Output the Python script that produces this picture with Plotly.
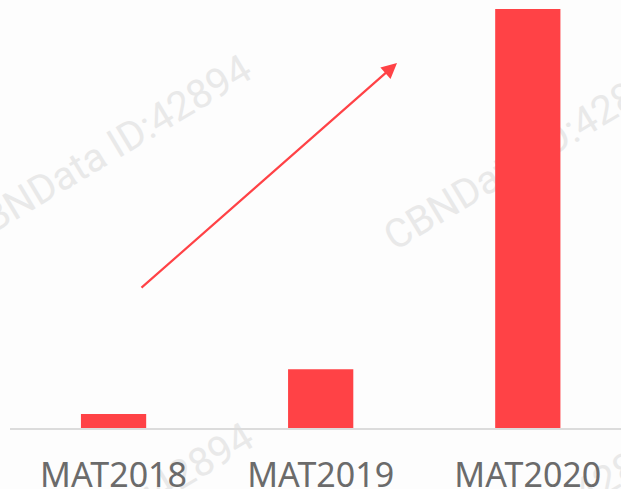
import plotly.graph_objects as go

categories = ["MAT2018", "MAT2019", "MAT2020"]
values = [1.0, 4.2, 30.0]
watermark_text = "CBNData ID:42894"

W, H = 621, 489
ML, MR, MT, MB = 10, 0, 0, 61
pw, ph = W - ML - MR, H - MT - MB

def px_to_paper(x, y):
    return (x - ML) / pw, (H - MB - y) / ph

fig = go.Figure()
fig.add_trace(go.Bar(
    x=categories, y=values,
    marker=dict(color="#ff4246", line=dict(width=0)),
    width=0.315, hoverinfo="skip",
))

# watermarks (behind bars)
wm_centers = [(104, 148), (528, 152), (106, 516), (530, 522)]
for cx, cy in wm_centers:
    px, py = px_to_paper(cx, cy)
    fig.add_shape(
        type="rect", xref="paper", yref="paper",
        x0=px - 0.01, x1=px + 0.01, y0=py - 0.01, y1=py + 0.01,
        line=dict(width=0), fillcolor="rgba(0,0,0,0)", layer="below",
        label=dict(text=watermark_text, textangle=-31, textposition="middle center",
                   font=dict(family="Roboto", size=40, color="#e9e9e9")),
    )

# arrow
hx, hy = px_to_paper(397, 63)
fig.add_annotation(
    x=hx, y=hy, xref="paper", yref="paper",
    ax=140 - 397, ay=289 - 63, axref="pixel", ayref="pixel",
    showarrow=True, arrowhead=2, arrowsize=1.4, arrowwidth=2.2,
    arrowcolor="#ff4246", text="", standoff=0,
)

fig.update_layout(
    width=W, height=H,
    margin=dict(l=ML, r=MR, t=MT, b=MB, pad=0, autoexpand=False),
    paper_bgcolor="#fdfdfd", plot_bgcolor="rgba(0,0,0,0)",
    showlegend=False,
    xaxis=dict(range=[-0.5, 2.45], showgrid=False, zeroline=False,
               showline=True, linecolor="#dcdcdc", linewidth=2,
               ticks="", ticklabelstandoff=16, automargin=False,
               tickfont=dict(family="Noto Sans", size=34, color="#6b6b6b"),
               fixedrange=True),
    yaxis=dict(range=[0, 30.0 * 428 / 419], visible=False, fixedrange=True,
               automargin=False),
)

fig.write_html("out.html", config={"displayModeBar": False},
               post_script="document.body.style.margin='0';document.body.style.overflow='hidden';")
